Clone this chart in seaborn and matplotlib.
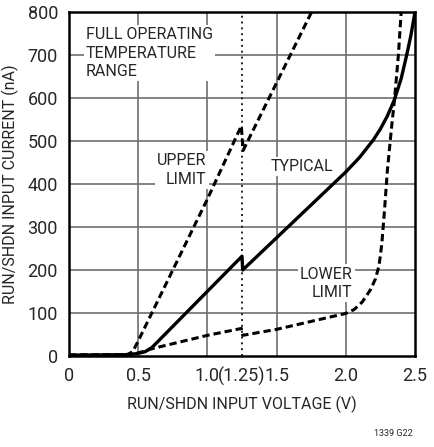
import numpy as np
import pandas as pd
import seaborn as sns
import matplotlib
matplotlib.use("Agg")
import matplotlib.pyplot as plt

# --- data (V, nA) ---
typ_v = [0, 0.40, 0.45, 0.50, 0.55, 0.60, 0.64, 0.68, 1.25, 1.255,
         2.00, 2.10, 2.20, 2.25, 2.30, 2.35, 2.40, 2.44, 2.47, 2.50]
typ_i = [2, 3, 4, 6, 10, 20, 33, 46, 232, 200,
         428, 462, 503, 528, 558, 595, 645, 700, 745, 800]

upper_v = [0, 0.42, 0.46, 0.50, 1.00, 1.245, 1.258, 1.753]
upper_i = [2, 3, 10, 35, 365, 535, 478, 800]

lower_v = [0, 0.42, 0.50, 0.60, 1.00, 1.245, 1.255, 1.50, 2.00, 2.06, 2.12,
           2.18, 2.215, 2.24, 2.26, 2.28, 2.30, 2.33, 2.353, 2.38, 2.40]
lower_i = [2, 3, 7, 17, 48, 64, 48, 62, 99, 108, 126,
           155, 180, 210, 260, 340, 430, 530, 600, 700, 800]

x_ticks = [0, 0.5, 1.0, 1.25, 1.5, 2.0, 2.5]
x_tick_labels = ["0", "0.5", "1.0", "(1.25)", "1.5", "2.0", "2.5"]
y_ticks = list(range(0, 900, 100))

sns.set_style("white")
plt.rcParams['font.family'] = ['Roboto', 'DejaVu Sans']

fig = plt.figure(figsize=(4.35, 4.47), dpi=100)
ax = fig.add_axes([69 / 435, (447 - 356) / 447, 346 / 435, 344 / 447])

# grid
for gx in [0.5, 1.0, 1.5, 2.0]:
    ax.axvline(gx, color="#6e6e6e", lw=1.2, zorder=0)
for gy in y_ticks[1:-1]:
    ax.axhline(gy, color="#6e6e6e", lw=1.2, zorder=0)

# dotted marker at 1.25 V
ax.axvline(1.25, color="#222222", lw=1.4, ls=(0, (1, 2)), zorder=2.5)

sns.lineplot(x=typ_v, y=typ_i, sort=False, estimator=None, ax=ax,
             color="black", lw=2.4, zorder=3)
sns.lineplot(x=upper_v, y=upper_i, sort=False, estimator=None, ax=ax,
             color="black", lw=2.2, zorder=3)
sns.lineplot(x=lower_v, y=lower_i, sort=False, estimator=None, ax=ax,
             color="black", lw=2.2, zorder=3)
ax.lines[-2].set_linestyle((0, (2.4, 1.3)))
ax.lines[-1].set_linestyle((0, (2.4, 1.3)))

ax.set_xlim(0, 2.5)
ax.set_ylim(0, 800)
ax.set_xticks(x_ticks)
ax.set_xticklabels(x_tick_labels)
ax.set_yticks(y_ticks)
ax.tick_params(length=0, labelsize=13, pad=8)
for s in ax.spines.values():
    s.set_color("black")
    s.set_linewidth(1.8)

ax.set_xlabel("RUN/SHDN INPUT VOLTAGE (V)", fontsize=11.5, labelpad=7)
ax.set_ylabel("RUN/SHDN INPUT CURRENT (nA)", fontsize=11.5, labelpad=6)

box = dict(facecolor="white", edgecolor="none", pad=1.5)
ax.text(0.12, 765, "FULL OPERATING\nTEMPERATURE\nRANGE", fontsize=11.5,
        ha="left", va="top", linespacing=1.3, bbox=box, zorder=2)
ax.text(0.995, 472, "UPPER\nLIMIT", fontsize=11.5, ha="right", va="top",
        multialignment="right", linespacing=1.3, bbox=box, zorder=2)
ax.text(1.46, 440, "TYPICAL", fontsize=11.5, ha="left", va="center",
        bbox=box, zorder=2)
ax.text(2.05, 208, "LOWER\nLIMIT", fontsize=11.5, ha="right", va="top",
        multialignment="right", linespacing=1.3, bbox=box, zorder=2)

fig.text(413 / 435, 1 - 433 / 447, "1339 G22", fontsize=6.5, ha="right", va="center")

fig.savefig("out.png", dpi=100)
